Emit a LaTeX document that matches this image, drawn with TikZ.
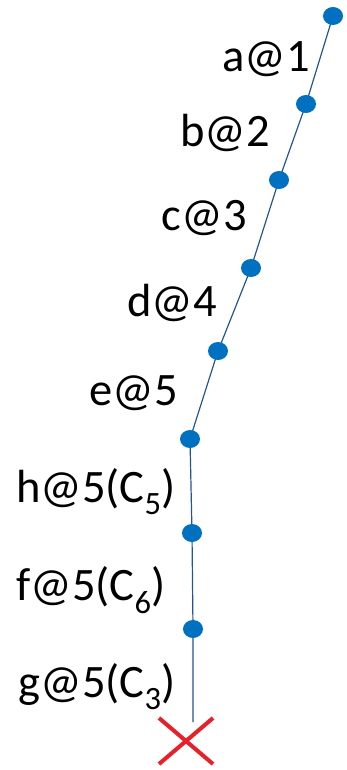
\documentclass[tikz,border=0pt]{standalone}
\usepackage{fontspec}
\setmainfont{Carlito}
\usetikzlibrary{shapes.geometric,backgrounds}
\definecolor{dotblue}{RGB}{0,112,192}
\definecolor{pathblue}{RGB}{35,85,150}
\definecolor{crossred}{RGB}{232,32,42}
\tikzset{
  dot/.style={ellipse,fill=dotblue,inner sep=0pt,minimum width=20pt,minimum height=18pt},
  lbl/.style={anchor=base east,inner sep=0pt,font=\fontsize{46.5}{54}\selectfont}
}
\begin{document}
\begin{tikzpicture}[x=1pt,y=-1pt]
\useasboundingbox (0,0) rectangle (346,770);

% points along the path
\node[dot] (p1) at (333,16) {};
\node[dot] (p2) at (306,104) {};
\node[dot] (p3) at (279,180) {};
\node[dot] (p4) at (251,268) {};
\node[dot] (p5) at (218,351) {};
\node[dot] (p6) at (190,439) {};
\node[dot] (p7) at (192,533) {};
\node[dot] (p8) at (193,629) {};
\coordinate (stop) at (193,722);
\coordinate (x) at (186,741);

\begin{pgfonlayer}{background}
\draw[pathblue,line width=1.2pt] (p1.center) -- (p2.center) -- (p3.center) -- (p4.center)
   -- (p5.center) -- (p6.center) -- (p7.center) -- (p8.center) -- (stop);
\end{pgfonlayer}

% the red cross at the end
\draw[crossred,line width=4pt] (x) ++(-27,-23) -- ++(54,46)
   (x) ++(-27,23) -- ++(54,-46);

% labels
\node[lbl] at (310,72) {a@1};
\node[lbl] at (270,147) {b@2};
\node[lbl] at (247,230) {c@3};
\node[lbl] at (217,316) {d@4};
\node[lbl] at (178,405) {e@5};
\node[lbl] at (176,502) {h@5(C\textsubscript{5})};
\node[lbl] at (166,600) {f@5(C\textsubscript{6})};
\node[lbl] at (176,697) {g@5(C\textsubscript{3})};

\end{tikzpicture}
\end{document}
